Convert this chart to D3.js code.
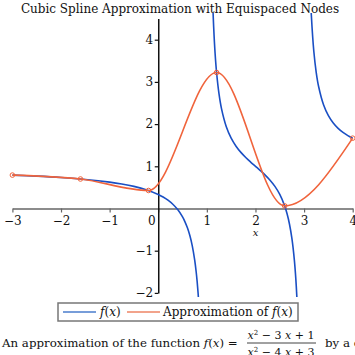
<!DOCTYPE html>
<html><head><meta charset="utf-8">
<script src="https://cdn.jsdelivr.net/npm/d3@7"></script>
<style>body{margin:0;background:#fff;overflow:hidden}svg{display:block}text{font-family:"DejaVu Serif",serif;fill:#111}</style>
</head><body>
<script>
// Interpolation nodes (equispaced) and their values
const nodeX = [-3, -1.6, -0.2, 1.2, 2.6, 4];
const nodeY = [0.7917, 0.6990, 0.4271, 3.2222, 0.0625, 1.6667];
// f(x) sampled, three branches (vertical asymptotes at x=1 and x=3)
const b1X = [-3, -2.5, -2, -1.5, -1, -0.75, -0.5, -0.25, 0, 0.1, 0.2, 0.3, 0.4, 0.5, 0.55, 0.6, 0.65, 0.7, 0.75, 0.78, 0.8, 0.82, 0.84];
const b1Y = [0.7917, 0.7662, 0.7333, 0.6889, 0.625, 0.5810, 0.5238, 0.4462, 0.3333, 0.2720, 0.1964, 0.1005, -0.0256, -0.2, -0.3152, -0.4583, -0.6413, -0.8841, -1.2222, -1.4980, -1.7273, -2.0071, -2.3565];
const b2X = [1.1, 1.12, 1.14, 1.17, 1.2, 1.25, 1.3, 1.4, 1.5, 1.6, 1.7, 1.8, 1.9, 2, 2.1, 2.2, 2.3, 2.4, 2.5, 2.6, 2.65, 2.7, 2.75, 2.8, 2.83, 2.86, 2.88, 2.9];
const b2Y = [5.7368, 4.9007, 4.3026, 3.6680, 3.2222, 2.7143, 2.3725, 1.9375, 1.6667, 1.4762, 1.3297, 1.2083, 1.1010, 1, 0.8990, 0.7917, 0.6703, 0.5238, 0.3333, 0.0625, -0.1255, -0.3725, -0.7143, -1.2222, -1.6680, -2.3026, -2.9007, -3.7368];
const b3X = [3.1, 3.12, 3.15, 3.2, 3.25, 3.3, 3.4, 3.5, 3.6, 3.7, 3.8, 3.9, 4];
const b3Y = [6.2381, 5.4025, 4.5659, 3.7273, 3.2222, 2.8841, 2.4583, 2.2, 2.0256, 1.8995, 1.8036, 1.7280, 1.6667];
const xTicks = [-3, -2, -1, 0, 1, 2, 3, 4];
const xMinor = [-2.5, -1.5, -0.5, 0.5, 1.5, 2.5, 3.5];
const yTicks = [-2, -1, 1, 2, 3, 4];
const yMinor = [-1.5, -0.5, 0.5, 1.5, 2.5, 3.5, 4.5];
const titleText = "Cubic Spline Approximation with Equispaced Nodes";

const W = 355, H = 355;
const blue = "#1a4fc4", orange = "#f0643c";
const svg = d3.select("body").append("svg").attr("width", W).attr("height", H);

const x = d3.scaleLinear().domain([-3, 4]).range([12.4, 352.7]);
const y = d3.scaleLinear().domain([-2, 4.5]).range([292.9, 18.6]);

svg.append("text").attr("x", 180).attr("y", 13).attr("text-anchor", "middle")
  .style("font-size", "12px").text(titleText);

// axes
const fmt = d => d < 0 ? "\u2212" + Math.abs(d) : String(d);
const gx = svg.append("g").attr("transform", `translate(0,${y(0)})`);
gx.call(d3.axisBottom(x).tickValues(xMinor).tickSize(2.5).tickFormat(""));
gx.call(d3.axisBottom(x).tickValues(xTicks).tickSize(4).tickSizeOuter(0).tickFormat(fmt));
gx.selectAll("path.domain").attr("stroke", "#666").attr("stroke-width", 1.5);
gx.selectAll(".tick line").attr("stroke", "#666").attr("stroke-width", 1.2);
gx.selectAll(".tick text").style("font-family", "DejaVu Serif").style("font-size", "12px").attr("fill", "#111").attr("y", 8);
gx.selectAll(".tick").filter(d => d === 0).select("text").attr("dx", -7);

const gy = svg.append("g").attr("transform", `translate(${x(0)},0)`);
gy.call(d3.axisLeft(y).tickValues(yMinor).tickSize(2.5).tickSizeOuter(0).tickFormat(""));
gy.call(d3.axisLeft(y).tickValues(yTicks).tickSize(3.5).tickSizeOuter(0).tickFormat(fmt));
gy.selectAll("path.domain").attr("stroke", "#111").attr("stroke-width", 1.5);
gy.selectAll(".tick line").attr("stroke", "#111").attr("stroke-width", 1.2);
gy.selectAll(".tick text").style("font-family", "DejaVu Serif").style("font-size", "12px").attr("fill", "#111").attr("x", -5);

svg.append("text").attr("x", x(2)).attr("y", 236).attr("text-anchor", "middle")
  .style("font-size", "10px").style("font-style", "italic").text("x");

// clip
svg.append("clipPath").attr("id", "clip").append("rect")
  .attr("x", 0).attr("y", 13).attr("width", W).attr("height", 284);
const plot = svg.append("g").attr("clip-path", "url(#clip)");

const lineB = d3.line().x(d => x(d[0])).y(d => y(d[1])).curve(d3.curveCatmullRom.alpha(0.5));
[[b1X, b1Y], [b2X, b2Y], [b3X, b3Y]].forEach(([xs, ys]) => {
  plot.append("path").datum(xs.map((v, i) => [v, ys[i]]))
    .attr("d", lineB).attr("fill", "none").attr("stroke", blue).attr("stroke-width", 1.6);
});

const nodes = nodeX.map((v, i) => [v, nodeY[i]]);
const lineS = d3.line().x(d => x(d[0])).y(d => y(d[1])).curve(d3.curveMonotoneX);
plot.append("path").datum(nodes).attr("d", lineS).attr("fill", "none")
  .attr("stroke", orange).attr("stroke-width", 1.6);
plot.selectAll("circle.node").data(nodes).join("circle").attr("class", "node")
  .attr("cx", d => x(d[0])).attr("cy", d => y(d[1])).attr("r", 2.3)
  .attr("fill", "none").attr("stroke", orange).attr("stroke-width", 1);

// legend
const lg = svg.append("g");
lg.append("rect").attr("x", 58).attr("y", 303).attr("width", 240).attr("height", 18)
  .attr("fill", "#fff").attr("stroke", "#777").attr("stroke-width", 1.5);
lg.append("line").attr("x1", 63).attr("x2", 96).attr("y1", 312).attr("y2", 312).attr("stroke", "#4a7ccc").attr("stroke-width", 1.6);
lg.append("line").attr("x1", 127).attr("x2", 160).attr("y1", 312).attr("y2", 312).attr("stroke", "#ee8464").attr("stroke-width", 1.6);
const t1 = lg.append("text").attr("x", 100).attr("y", 316).style("font-size", "12px");
t1.append("tspan").style("font-style", "italic").text("f");
t1.append("tspan").text("(");
t1.append("tspan").style("font-style", "italic").text("x");
t1.append("tspan").text(")");
const t2 = lg.append("text").attr("x", 163).attr("y", 316).style("font-size", "12px");
t2.append("tspan").text("Approximation of ");
t2.append("tspan").style("font-style", "italic").text("f");
t2.append("tspan").text("(");
t2.append("tspan").style("font-style", "italic").text("x");
t2.append("tspan").text(")");

// caption
const cap = svg.append("text").attr("x", 2).attr("y", 347).style("font-size", "11.8px");
cap.append("tspan").text("An approximation of the function ");
cap.append("tspan").style("font-style", "italic").text("f");
cap.append("tspan").text("(");
cap.append("tspan").style("font-style", "italic").text("x");
cap.append("tspan").text(") =");
function poly(yb, b) {
  const t = svg.append("text").attr("x", 281).attr("y", yb).attr("text-anchor", "middle").style("font-size", "11px");
  t.append("tspan").style("font-style", "italic").text("x");
  t.append("tspan").attr("dy", -4).style("font-size", "7px").text("2");
  t.append("tspan").attr("dy", 4).text(" \u2212 " + b + " ");
  t.append("tspan").style("font-style", "italic").text("x");
  t.append("tspan").text(" + " + (b === 3 ? 1 : 3));
}
poly(339, 3);
poly(356, 4);
svg.append("line").attr("x1", 247).attr("x2", 316).attr("y1", 343).attr("y2", 343).attr("stroke", "#111").attr("stroke-width", 0.8);
svg.append("text").attr("x", 325).attr("y", 347).style("font-size", "11.8px").text("by a cubic spline.");
</script>
</body></html>
